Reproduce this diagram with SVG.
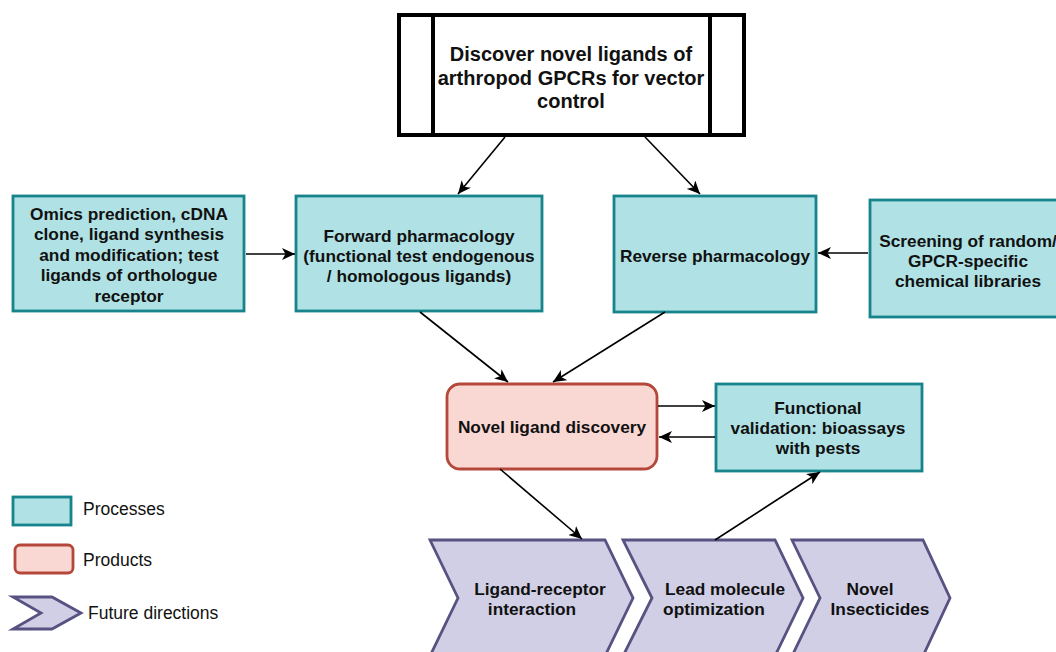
<svg xmlns="http://www.w3.org/2000/svg" width="1056" height="652" viewBox="0 0 1056 652">
  <defs>
    <marker id="arr" markerUnits="userSpaceOnUse" markerWidth="14" markerHeight="12" refX="13" refY="6" orient="auto">
      <path d="M0,0 L13,6 L0,12 L3.5,6 Z" fill="#000"/>
    </marker>
    <style>
      text { font-family: "Liberation Sans", Arial, sans-serif; fill: #111; }
      .t { font-size: 17.3px; font-weight: bold; text-anchor: middle; }
      .big { font-size: 20px; font-weight: bold; text-anchor: middle; }
      .leg { font-size: 17.5px; }
      .proc { fill: #b0e2e5; stroke: #17838a; stroke-width: 2.8; }
      .prod { fill: #f9d8d4; stroke: #b5473a; stroke-width: 2.8; }
      .fut { fill: #d0cfe5; stroke: #575282; stroke-width: 2.8; }
      .conn line { stroke: #000; stroke-width: 1.6; marker-end: url(#arr); }
    </style>
  </defs>
  <rect width="1056" height="652" fill="#fff"/>

  <g id="goal">
    <rect x="399" y="15" width="345" height="120" fill="#fff" stroke="#000" stroke-width="4"/>
    <line x1="433" y1="15" x2="433" y2="135" stroke="#000" stroke-width="4"/>
    <line x1="710" y1="15" x2="710" y2="135" stroke="#000" stroke-width="4"/>
    <text class="big" x="571" y="61">Discover novel ligands of</text>
    <text class="big" x="571" y="85">arthropod GPCRs for vector</text>
    <text class="big" x="571" y="108">control</text>
  </g>

  <g id="omics">
    <rect class="proc" x="13" y="196" width="231" height="115"/>
    <text class="t" x="129" y="220">Omics prediction, cDNA</text>
    <text class="t" x="129" y="240">clone, ligand synthesis</text>
    <text class="t" x="129" y="261">and modification; test</text>
    <text class="t" x="129" y="281">ligands of orthologue</text>
    <text class="t" x="129" y="302">receptor</text>
  </g>

  <g id="forward">
    <rect class="proc" x="296" y="196" width="246" height="115"/>
    <text class="t" x="419" y="242">Forward pharmacology</text>
    <text class="t" x="419" y="262">(functional test endogenous</text>
    <text class="t" x="419" y="282">/ homologous ligands)</text>
  </g>

  <g id="reverse">
    <rect class="proc" x="614" y="196" width="202" height="116"/>
    <text class="t" x="715" y="262">Reverse pharmacology</text>
  </g>

  <g id="screening">
    <rect class="proc" x="870" y="200" width="200" height="117"/>
    <text class="t" x="968" y="247">Screening of random/</text>
    <text class="t" x="968" y="267">GPCR-specific</text>
    <text class="t" x="968" y="287">chemical libraries</text>
  </g>

  <g id="novel">
    <rect class="prod" x="447" y="384" width="210" height="85" rx="13"/>
    <text class="t" x="552" y="433">Novel ligand discovery</text>
  </g>

  <g id="functional">
    <rect class="proc" x="716" y="384" width="206" height="87"/>
    <text class="t" x="818" y="414">Functional</text>
    <text class="t" x="818" y="434">validation: bioassays</text>
    <text class="t" x="818" y="454">with pests</text>
  </g>

  <g id="ligand-receptor">
    <polygon class="fut" points="430,540 605,540 633,598 605,656 430,656 458,598"/>
    <text class="t" x="540" y="595">Ligand-receptor</text>
    <text class="t" x="532" y="615">interaction</text>
  </g>

  <g id="lead">
    <polygon class="fut" points="623,540 775,540 803,598 775,656 623,656 652,598"/>
    <text class="t" x="725" y="595">Lead molecule</text>
    <text class="t" x="714" y="615">optimization</text>
  </g>

  <g id="insecticides">
    <polygon class="fut" points="792,540 923,540 950,598 923,656 792,656 820,598"/>
    <text class="t" x="870" y="595">Novel</text>
    <text class="t" x="880" y="615">Insecticides</text>
  </g>

  <g id="legend">
    <rect class="proc" x="13" y="497" width="58" height="28"/>
    <text class="leg" x="83" y="515">Processes</text>
    <rect class="prod" x="15" y="545" width="58" height="28" rx="5"/>
    <text class="leg" x="83" y="566">Products</text>
    <polygon class="fut" points="13,597 52,597 81,613 52,629 13,629 41,613"/>
    <text class="leg" x="88" y="619">Future directions</text>
  </g>

  <g id="connectors" class="conn">
    <line x1="505" y1="137" x2="458" y2="194"/>
    <line x1="645" y1="137" x2="700" y2="194"/>
    <line x1="246" y1="254" x2="295" y2="254"/>
    <line x1="868" y1="253" x2="818" y2="253"/>
    <line x1="420" y1="312" x2="508" y2="382"/>
    <line x1="665" y1="312" x2="553" y2="382"/>
    <line x1="658" y1="406" x2="715" y2="406"/>
    <line x1="715" y1="437" x2="659" y2="437"/>
    <line x1="500" y1="469" x2="582" y2="539"/>
    <line x1="715" y1="540" x2="820" y2="472"/>
  </g>
</svg>
